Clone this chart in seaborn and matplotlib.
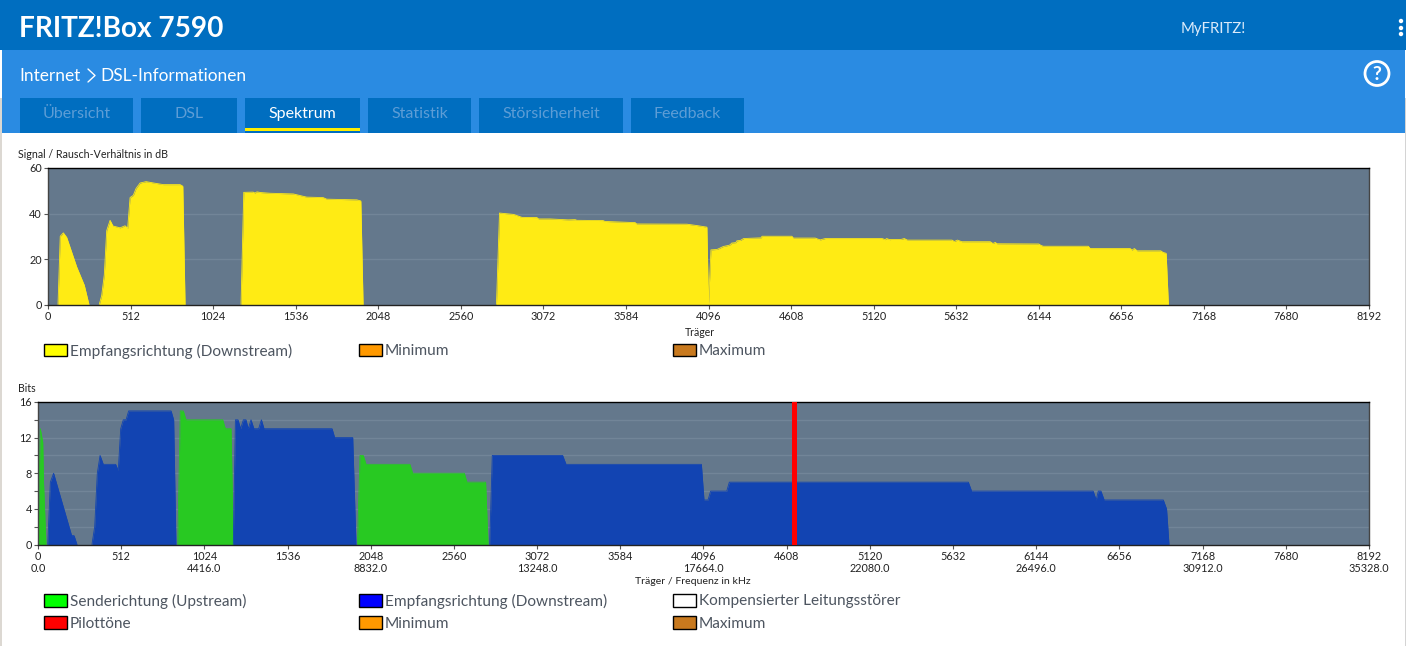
import numpy as np
import pandas as pd
import seaborn as sns
import matplotlib
matplotlib.use("Agg")
import matplotlib.pyplot as plt
from matplotlib.patches import Rectangle, Circle

# values (carrier, dB)
snr_carrier = [62, 76, 95, 116, 178, 225, 254, 318, 333, 349, 364, 385, 403, 447, 478, 494, 509, 529, 546, 571, 608, 664, 715, 819, 836, 850,
               1197, 1214, 1272, 1283, 1296, 1320, 1377, 1521, 1604, 1706, 1728, 1915, 1940, 1954,
               2781, 2800, 2887, 2939, 3032, 3042, 3114, 3226, 3269, 3280, 3442, 3454, 3641, 3650, 3962, 4024, 4086, 4096,
               4111, 4149, 4188, 4222, 4231, 4240, 4265, 4272, 4295, 4314, 4422, 4428, 4613, 4622, 4758, 4772, 4789, 4820, 5172, 5192, 5200, 5220, 5230, 5290, 5310, 5329,
               5606, 5620, 5640, 5667, 5843, 5860, 5874, 5885, 6144, 6157, 6172, 6451, 6463, 6711, 6722, 6737, 6754, 6900, 6915, 6934, 6948]
snr_db = [0, 30, 31.5, 29.5, 16.5, 8.5, 0, 0, 4, 13, 32.5, 37, 34.5, 33.7, 34.6, 33.5, 47, 48, 51, 53.4, 54, 53.3, 52.7, 52.7, 52, 0,
          0, 49.3, 49.4, 49, 49.5, 49.2, 48.9, 48.6, 47.2, 47, 46.3, 46, 45.5, 0,
          0, 40.2, 39.6, 38.3, 38.2, 37.6, 37.6, 37.2, 37.3, 37, 36.9, 36.5, 36, 35.4, 35.3, 34.7, 34, 0,
          24, 24.2, 25.5, 26, 26.3, 27, 27.2, 28, 28.2, 29, 29.3, 30, 30, 29.2, 29.2, 28.8, 28.4, 29, 29, 28.5, 29, 28.5, 28.6, 28.6, 29, 28.3,
          28.3, 27.7, 28.3, 27.6, 27.6, 26.8, 27.3, 26.7, 26.6, 26, 25.6, 25.6, 24.6, 24.6, 23.9, 24.6, 23.6, 23.6, 22.9, 22.5, 0]

up_carrier = [0, 14, 29, 34, 49, 860, 876, 894, 911, 1137, 1153, 1188, 1202,
              1966, 1982, 2002, 2019, 2289, 2306, 2624, 2640, 2755, 2770]
up_bits = [0, 13, 11.5, 7, 0, 0, 15, 15, 14, 14, 13, 13, 0,
           0, 10, 10, 9, 9, 8, 8, 7, 7, 0]

down_carrier = [60, 76, 96, 207, 222, 240, 332, 349, 365, 382, 402, 478, 494, 509, 525, 542, 558, 819, 835, 849,
                1202, 1215, 1231, 1247, 1264, 1280, 1294, 1311, 1329, 1358, 1375, 1391, 1810, 1826, 1937, 1957,
                2780, 2796, 3229, 3250, 4083, 4099, 4124, 4140, 4239, 4255, 5726, 5746, 6494, 6513, 6526, 6542, 6562, 6926, 6946, 6961]
down_bits = [0, 7, 8, 1, 1, 0, 0, 2, 8, 10, 9, 9, 8.3, 13, 14, 14, 15, 15, 14, 0,
             0, 14, 14, 13, 14, 14, 13, 14, 13, 13, 14, 13, 13, 12, 12, 0,
             0, 10, 10, 9, 9, 5, 5, 6, 6, 7, 7, 6, 6, 5, 6, 6, 5, 5, 4, 0]

pilot_carrier = [4655]
pilot_bits = [16]
pilot_width = 30

carrier_ticks = list(range(0, 8193, 512))
freq_labels = ["0.0", "", "4416.0", "", "8832.0", "", "13248.0", "", "17664.0", "", "22080.0", "", "26496.0", "", "30912.0", "", "35328.0"]

tabs = ["Übersicht", "DSL", "Spektrum", "Statistik", "Störsicherheit", "Feedback"]
tab_left = [20, 141, 245, 368, 479, 631]
tab_right = [133, 237, 360, 471, 623, 744]

W, H = 1406, 646
DARK_BLUE = "#006EC0"
LIGHT_BLUE = "#2A8BE2"
PLOT_BG = "#64788C"
GRID = "#728598"
YELLOW = "#FFEB14"
GREEN = "#28C922"
BLUE = "#1244B2"
TEXT = "#4D5560"

sns.set_style("white")
plt.rcParams["font.family"] = ["Lato", "DejaVu Sans"]

fig = plt.figure(figsize=(W / 100, H / 100), dpi=100, facecolor="white")

# page chrome drawn in pixel coordinates
bg = fig.add_axes([0, 0, 1, 1])
bg.set_xlim(0, W)
bg.set_ylim(H, 0)
bg.axis("off")


def box(x0, y0, x1, y1, color, edge="none", lw=0):
    bg.add_patch(Rectangle((x0, y0), x1 - x0, y1 - y0, facecolor=color, edgecolor=edge, linewidth=lw))


box(0, 98, 2, H, "#DCD8D2")
box(1405, 98, W, H, "#D4D4D4")
box(0, 0, W, 50, DARK_BLUE)
box(2, 50, 1405, 133, LIGHT_BLUE)
for name, l, r in zip(tabs, tab_left, tab_right):
    box(l, 98, r, 133, DARK_BLUE)
    active = name == "Spektrum"
    bg.text((l + r) / 2, 114, name, color="white" if active else "#5D9DD6", fontsize=11.5, ha="center", va="center")
box(245, 128, 360, 131, "#FFEE00")

bg.text(19, 29, "FRITZ!Box 7590", color="white", fontsize=20.2, fontweight="bold", ha="left", va="center")
bg.text(1181, 29.5, "MyFRITZ!", color="#DCEBFA", fontsize=10.7, ha="left", va="center")
bg.text(19, 76, "Internet", color="white", fontsize=12.4, ha="left", va="center")
bg.plot([88, 95, 88], [69, 75.5, 82], color="white", lw=1)
bg.text(100, 76, "DSL-Informationen", color="white", fontsize=12.4, ha="left", va="center")
bg.add_patch(Circle((1377, 73.5), 12, facecolor="none", edgecolor="white", linewidth=2))
bg.text(1377, 74, "?", color="white", fontsize=14, fontweight="bold", ha="center", va="center")
for yy in [21, 28, 34]:
    bg.add_patch(Circle((1401, yy), 2.2, facecolor="white", edgecolor="none"))


def plot_axes(x0, y0, x1, y1):
    ax = fig.add_axes([x0 / W, 1 - y1 / H, (x1 - x0) / W, (y1 - y0) / H])
    ax.set_facecolor(PLOT_BG)
    ax.set_xlim(0, 8192)
    ax.set_xticks(carrier_ticks)
    ax.tick_params(axis="both", length=3, width=0.8, color="#555555", labelsize=7.8, labelcolor="#222222", pad=1.5, bottom=True, left=True)
    ax.spines["top"].set_color("black")
    ax.spines["bottom"].set_color("#222222")
    ax.spines["left"].set_color("#444444")
    ax.spines["right"].set_color("#444444")
    for s in ax.spines.values():
        s.set_visible(True)
        s.set_linewidth(1)
    return ax


def area(ax, xs, ys, color):
    df = pd.DataFrame({"carrier": xs, "value": ys})
    # a new run starts after two zeros in a row so no line is drawn along the floor
    df["run"] = ((df["value"] == 0) & (df["value"].shift(1) == 0)).cumsum()
    ax.fill_between(df["carrier"], df["value"], 0, color=color, linewidth=0, zorder=2)
    sns.lineplot(data=df, x="carrier", y="value", units="run", color=color, linewidth=0.6, sort=False, estimator=None, ax=ax, zorder=2)
    ax.set_xlabel("")
    ax.set_ylabel("")


# SNR panel
ax1 = plot_axes(48, 168, 1369, 304.5)
area(ax1, snr_carrier, snr_db, YELLOW)
ax1.set_ylim(0, 60)
ax1.set_yticks([0, 20, 40, 60])
ax1.set_xticks(carrier_ticks)
ax1.set_xticklabels([str(c) for c in carrier_ticks])
ax1.yaxis.grid(True, color=GRID, linewidth=1, zorder=1)
ax1.set_axisbelow(True)

# bits panel
ax2 = plot_axes(38, 402, 1369, 544.5)
area(ax2, up_carrier, up_bits, GREEN)
area(ax2, down_carrier, down_bits, BLUE)
ax2.bar(pilot_carrier, pilot_bits, width=pilot_width, color="#FF0000", linewidth=0, zorder=3)
ax2.set_xlim(0, 8192)
ax2.set_ylim(0, 16)
ax2.set_yticks(range(0, 17, 2))
ax2.set_yticklabels([str(v) if v % 4 == 0 else "" for v in range(0, 17, 2)])
ax2.set_xticks(carrier_ticks)
ax2.set_xticklabels([f"{c}\n{f}" for c, f in zip(carrier_ticks, freq_labels)], linespacing=1.15)
ax2.yaxis.grid(True, color=GRID, linewidth=1, zorder=1)
ax2.set_axisbelow(True)

# titles and axis names
bg.text(18, 154, "Signal / Rausch-Verhältnis in dB", color="#222222", fontsize=7.65, ha="left", va="center")
bg.text(700, 332, "Träger", color="#222222", fontsize=7.6, ha="center", va="center")
bg.text(18, 388, "Bits", color="#222222", fontsize=7.6, ha="left", va="center")
bg.text(693, 581.5, "Träger / Frequenz in kHz", color="#222222", fontsize=7.55, ha="center", va="center")


def legend_item(x, y, label, color):
    box(x, y - 6.5, x + 23, y + 6, color, edge="black", lw=1)
    bg.text(x + 26, y + 1, label, color=TEXT, fontsize=11.1, ha="left", va="center")


legend_item(44, 350, "Empfangsrichtung (Downstream)", "#FFFF00")
legend_item(359, 350, "Minimum", "#FF9900")
legend_item(673, 350, "Maximum", "#C8791E")
legend_item(44, 600.5, "Senderichtung (Upstream)", "#00FF00")
legend_item(359, 600.5, "Empfangsrichtung (Downstream)", "#0000FF")
legend_item(673, 600.5, "Kompensierter Leitungsstörer", "white")
legend_item(44, 622.5, "Pilottöne", "#FF0000")
legend_item(359, 622.5, "Minimum", "#FF9900")
legend_item(673, 622.5, "Maximum", "#C8791E")

fig.savefig("out.png", dpi=100, facecolor="white")
